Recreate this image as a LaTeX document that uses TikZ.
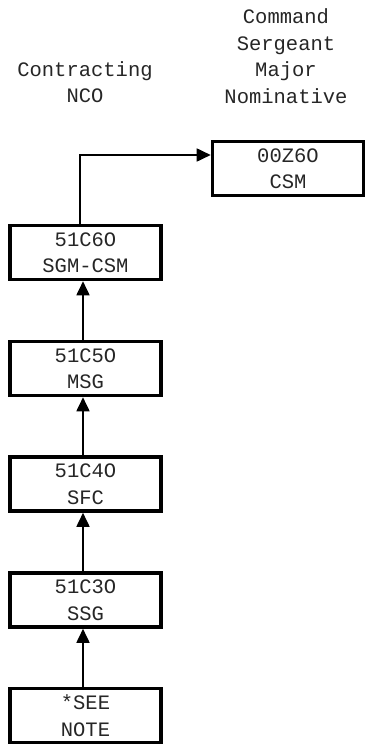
\documentclass[tikz,border=0pt]{standalone}
\usepackage{fontspec}
\setmainfont{Liberation Mono}
\usetikzlibrary{arrows.meta}
\begin{document}
\begin{tikzpicture}[x=1pt,y=-1pt,
  every node/.style={font=\fontsize{20.5}{26.5}\selectfont, text=black!85},
  rank/.style={draw=black, line width=3.6pt, minimum width=151pt, minimum height=54pt, inner sep=0pt, align=center},
  label/.style={align=center, inner sep=0pt},
  conn/.style={line width=1.8pt, -{Triangle[width=13pt,length=14pt]}}]
\useasboundingbox (0,0) rectangle (369,751);
\node[label] (hl) at (85,82) {Contracting\\NCO};
\node[label] (hr) at (286,56) {Command\\Sergeant\\Major\\Nominative};
\node[rank] (csm) at (288,168.5) {00Z6O\\CSM};
\node[rank] (sgm) at (85.5,252.5) {51C6O\\SGM-CSM};
\node[rank] (msg) at (85.5,368.5) {51C5O\\MSG};
\node[rank] (sfc) at (85.5,484) {51C4O\\SFC};
\node[rank] (ssg) at (85.5,600) {51C3O\\SSG};
\node[rank] (note) at (85.5,715.5) {*SEE\\NOTE};
\coordinate (turn) at (80,155);
\coordinate (ax) at (83,0);
\draw[conn] (sgm.north -| turn) -- (turn) -- (turn -| csm.west);
\draw[conn] (msg.north -| ax) -- (sgm.south -| ax);
\draw[conn] (sfc.north -| ax) -- (msg.south -| ax);
\draw[conn] (ssg.north -| ax) -- (sfc.south -| ax);
\draw[conn] (note.north -| ax) -- (ssg.south -| ax);
\end{tikzpicture}
\end{document}
